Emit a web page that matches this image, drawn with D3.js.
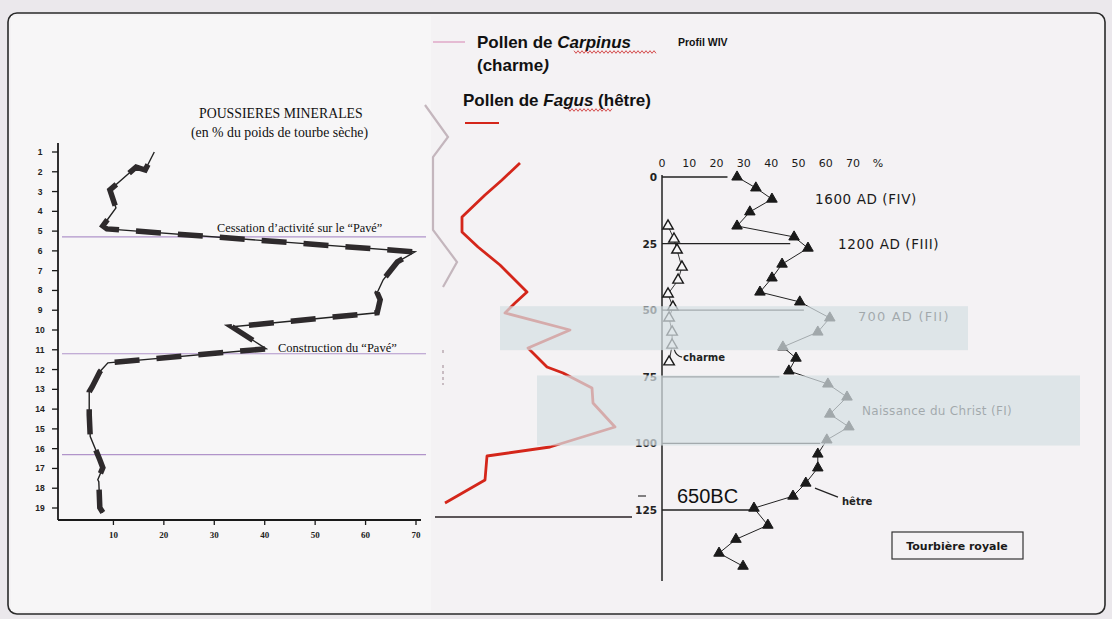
<!DOCTYPE html>
<html><head><meta charset="utf-8">
<script src="https://cdn.jsdelivr.net/npm/d3@7"></script>
<style>body{margin:0;background:#ebe8ec;} svg{display:block}</style>
</head><body><svg id="c" width="1112" height="619"></svg>
<script>
// ---------------- DATA ----------------
// Left panel: mineral dust (% of dry peat weight) vs sample level
const dustYTicks = [1,2,3,4,5,6,7,8,9,10,11,12,13,14,15,16,17,18,19];
const dustXTicks = [10,20,30,40,50,60,70];
const dustDepth = [1.0,1.91,1.76,2.92,3.83,4.74,4.89,6.05,6.56,7.46,8.12,8.47,9.13,9.84,10.95,11.66,12.11,12.87,13.12,14.28,15.39,16.56,16.96,17.57,17.67,18.98,19.23];
const dustValue = [18.1,16.3,14.5,9.3,10.5,7.9,8.7,69.8,66.3,63.5,62.3,62.9,62.3,33.5,40.3,8.9,7.3,5.8,5.2,5.2,5.4,7.3,7.9,6.9,7.1,7.3,7.9];
const dustEventDepth = [5.29, 11.2, 16.3];
const dustTitle = ["POUSSIERES MINERALES", "(en % du poids de tourbe sèche)"];
const cessationLabel = "Cessation d’activité sur le “Pavé”";
const constructionLabel = "Construction du “Pavé”";

// Middle panel: pollen curves (no axes in the original)
const fagusMidDepth = [3.15,4.0,4.75,5.85,6.6,7.35,8.25,9.6,10.15,10.65,11.5,12.4,13.35,13.65,14.4,15.15,16.35,17.35,17.8,19.0,20.15];
const fagusMidPct   = [20,16.4,13,8.4,8.4,11.6,16,21.4,19,17,30,21.6,25.4,28.6,34.4,34.6,39,26,13.4,13,5];
const carpMidDepth = [0.25,1.85,2.85,6.5,8.1,9.35];
const carpMidPct   = [1.0,5.6,2.6,2.6,7.4,4.6];
const carpMidFragDepth = [[12.5,12.8],[13.25,14.25]];
const carpMidFragPct = 4.6;
const midBaseDepth = 20.85, midBaseFrom = 3, midBaseTo = 42.4;

// Right panel: Tourbière royale
const royalDepthTicks = [0,25,50,75,100,125];
const royalPctTicks = [0,10,20,30,40,50,60,70];
const hetreDepth = [0,4.1,8.3,13.1,18.4,22.5,26.7,32.7,37.9,43.2,46.9,52.9,58.2,63.8,68.0,72.8,77.7,82.6,89.0,93.8,98.7,104.0,109.2,114.9,119.8,124.3,130.7,136.0,141.2,146.1];
const hetreValue = [27.5,34.4,40.3,32.2,27.5,48.4,53.5,44.0,40.3,35.9,50.5,61.5,57.1,44.3,49.1,46.5,60.8,67.8,61.5,68.5,60.4,57.1,57.1,52.7,48.0,33.7,38.8,27.1,20.9,29.7];
const charmeDepth = [18.4,23.3,27.4,33.8,38.7,43.9,48.8,52.9,58.2,63.1,69.4];
const charmeValue = [2.2,4.4,5.5,7.3,5.9,2.2,4.0,2.6,3.7,3.7,2.6];
const guideDepth = [0,25,50,75,100,125];
const guideEnd = [24,47,52,43,58,33];
const periodLabels = ["1600 AD (FIV)","1200 AD (FIII)","700 AD (FII)","Naissance du Christ (FI)"];

// ---------------- DRAW ----------------
const svg = d3.select("#c");
svg.append("rect").attr("x",8).attr("y",13).attr("width",1097).attr("height",601).attr("rx",9)
  .attr("fill","#f4f2f4").attr("stroke","#2a2a2a").attr("stroke-width",1.6);
svg.append("rect").attr("x",11).attr("y",16).attr("width",420).attr("height",595).attr("fill","#f7f6f7");

const serif = "'Liberation Serif','DejaVu Serif',serif";
const sans = "'Liberation Sans',Arial,sans-serif";
const dj = "'DejaVu Sans',sans-serif";

// ---- Left panel ----
const dx = d3.scaleLinear().domain([0,70]).range([63,416]);
const dy = d3.scaleLinear().domain([1,19]).range([152,508]);
const L = svg.append("g");
L.append("line").attr("x1",58).attr("x2",58).attr("y1",143).attr("y2",520).attr("stroke","#1a1a1a").attr("stroke-width",1.8);
L.append("line").attr("x1",58).attr("x2",421).attr("y1",520).attr("y2",520).attr("stroke","#1a1a1a").attr("stroke-width",1.8);
dustYTicks.forEach(t=>{
  L.append("line").attr("x1",52).attr("x2",58).attr("y1",dy(t)).attr("y2",dy(t)).attr("stroke","#1a1a1a").attr("stroke-width",1.3);
  L.append("text").attr("x",40).attr("y",dy(t)+3).attr("text-anchor","middle").attr("font-family",sans)
    .attr("font-size",8.5).attr("font-weight","bold").attr("fill","#222").text(t);
});
dustXTicks.forEach(t=>{
  L.append("line").attr("x1",dx(t)).attr("x2",dx(t)).attr("y1",520).attr("y2",525).attr("stroke","#1a1a1a").attr("stroke-width",1.3);
  L.append("text").attr("x",dx(t)).attr("y",538).attr("text-anchor","middle").attr("font-family",serif)
    .attr("font-size",9).attr("font-weight","bold").attr("fill","#222").text(t);
});
dustEventDepth.forEach(d=>{
  L.append("line").attr("x1",62).attr("x2",426).attr("y1",dy(d)).attr("y2",dy(d)).attr("stroke","#a07cc0").attr("stroke-width",1.1).attr("opacity",0.8);
});
const dustPts = dustDepth.map((d,i)=>[dx(dustValue[i]),dy(d)]);
const ln = d3.line();
L.append("path").attr("d",ln(dustPts)).attr("fill","none").attr("stroke","#222").attr("stroke-width",1.4);
L.append("path").attr("d",ln(dustPts)).attr("fill","none").attr("stroke","#2e2a2c").attr("stroke-width",5.5)
  .attr("stroke-dasharray","25,17").attr("stroke-dashoffset",-14);
L.append("text").attr("x",199).attr("y",118).attr("font-family",serif).attr("font-size",13.8).attr("fill","#111").text(dustTitle[0]);
L.append("text").attr("x",191).attr("y",137).attr("font-family",serif).attr("font-size",13.8).attr("fill","#111").text(dustTitle[1]);
L.append("text").attr("x",217).attr("y",232).attr("font-family",serif).attr("font-size",12.3).attr("fill","#111").text(cessationLabel);
L.append("text").attr("x",278).attr("y",352).attr("font-family",serif).attr("font-size",12.5).attr("fill","#111").text(constructionLabel);

// ---- Middle panel ----
const mx = d3.scaleLinear().domain([0,40]).range([420,620]);
const my = d3.scaleLinear().domain([0,20]).range([100,500]);
const M = svg.append("g");
M.append("path").attr("d",ln(carpMidDepth.map((d,i)=>[mx(carpMidPct[i]),my(d)])))
  .attr("fill","none").attr("stroke","#c4b6bd").attr("stroke-width",2.2);
carpMidFragDepth.forEach(f=>{
  M.append("line").attr("x1",mx(carpMidFragPct)).attr("x2",mx(carpMidFragPct)).attr("y1",my(f[0])).attr("y2",my(f[1]))
    .attr("stroke","#c8bcc2").attr("stroke-width",2).attr("stroke-dasharray","3,3");
});
M.append("path").attr("d",ln(fagusMidDepth.map((d,i)=>[mx(fagusMidPct[i]),my(d)])))
  .attr("fill","none").attr("stroke","#d4261a").attr("stroke-width",2.8).attr("stroke-linejoin","round");
M.append("line").attr("x1",mx(midBaseFrom)).attr("x2",mx(midBaseTo)).attr("y1",my(midBaseDepth)).attr("y2",my(midBaseDepth))
  .attr("stroke","#2a2226").attr("stroke-width",1.6);

// legend
function squiggle(x0,x1,y){
  const pts=[];for(let x=x0;x<=x1;x+=2){pts.push([x,y+((Math.round((x-x0)/2))%2?1.3:-1.3)]);}
  svg.append("path").attr("d",d3.line()(pts)).attr("fill","none").attr("stroke","#d03a3a").attr("stroke-width",0.9);
}
svg.append("line").attr("x1",433).attr("x2",465).attr("y1",42).attr("y2",42).attr("stroke","#e0a8c8").attr("stroke-width",1.5);
const t1 = svg.append("text").attr("x",477).attr("y",48).attr("font-family",sans).attr("font-size",17).attr("font-weight","bold").attr("fill","#111");
t1.append("tspan").text("Pollen de ");
t1.append("tspan").attr("font-style","italic").text("Carpinus");
svg.append("text").attr("x",678).attr("y",46).attr("font-family",sans).attr("font-size",10.5).attr("font-weight","bold").attr("fill","#111").text("Profil WIV");
const t2 = svg.append("text").attr("x",477).attr("y",71).attr("font-family",sans).attr("font-size",17).attr("font-weight","bold").attr("fill","#111");
t2.append("tspan").text("(charme");t2.append("tspan").attr("font-style","italic").text(")");
const t3 = svg.append("text").attr("x",463).attr("y",106).attr("font-family",sans).attr("font-size",17).attr("font-weight","bold").attr("fill","#111");
t3.append("tspan").text("Pollen de ");
t3.append("tspan").attr("font-style","italic").text("Fagus");
t3.append("tspan").text(" (hêtre)");
squiggle(574,656,52);
squiggle(568,612,110);
svg.append("line").attr("x1",465).attr("x2",499).attr("y1",123).attr("y2",123).attr("stroke","#d4261a").attr("stroke-width",2);

// ---- Right panel ----
const rx = d3.scaleLinear().domain([0,70]).range([662,853]);
const ry = d3.scaleLinear().domain([0,125]).range([177,510]);
const R = svg.append("g");
R.append("line").attr("x1",rx(0)).attr("x2",rx(0)).attr("y1",ry(0)-2).attr("y2",581).attr("stroke","#222").attr("stroke-width",1.5);
royalPctTicks.forEach(t=>{
  R.append("text").attr("x",rx(t)).attr("y",167).attr("text-anchor","middle").attr("font-family",dj).attr("font-size",11).attr("fill","#1a1a1a").text(t);
});
R.append("text").attr("x",878).attr("y",167).attr("text-anchor","middle").attr("font-family",dj).attr("font-size",11).attr("fill","#1a1a1a").text("%");
royalDepthTicks.forEach(t=>{
  R.append("text").attr("x",657).attr("y",ry(t)+4).attr("text-anchor","end").attr("font-family",dj).attr("font-size",10.5).attr("font-weight","bold").attr("fill","#222").text(t);
});
guideDepth.forEach((d,i)=>{
  R.append("line").attr("x1",rx(0)).attr("x2",rx(guideEnd[i])).attr("y1",ry(d)).attr("y2",ry(d)).attr("stroke","#222").attr("stroke-width",1.3);
});
R.append("path").attr("d",ln(charmeDepth.map((d,i)=>[rx(charmeValue[i]),ry(d)]))).attr("fill","none").attr("stroke","#222").attr("stroke-width",0.9);
R.append("path").attr("d",ln(hetreDepth.map((d,i)=>[rx(hetreValue[i]),ry(d)]))).attr("fill","none").attr("stroke","#222").attr("stroke-width",1);
const tri = d3.symbol().type(d3.symbolTriangle).size(48);
charmeDepth.forEach((d,i)=>{
  R.append("path").attr("d",tri()).attr("transform",`translate(${rx(charmeValue[i])},${ry(d)})`)
    .attr("fill","#f7f6f7").attr("stroke","#1a1a1a").attr("stroke-width",1.4);
});
hetreDepth.forEach((d,i)=>{
  R.append("path").attr("d",tri()).attr("transform",`translate(${rx(hetreValue[i])},${ry(d)})`)
    .attr("fill","#1a1a1a").attr("stroke","#1a1a1a").attr("stroke-width",1);
});
const cI = 9;
R.append("path").attr("d",`M${rx(charmeValue[cI])+2},${ry(charmeDepth[cI])+4} Q${rx(charmeValue[cI])+4},${ry(charmeDepth[cI])+11} ${rx(charmeValue[cI])+10},${ry(charmeDepth[cI])+12}`)
  .attr("fill","none").attr("stroke","#222").attr("stroke-width",1.2);
R.append("text").attr("x",rx(charmeValue[cI])+11).attr("y",ry(charmeDepth[cI])+16).attr("font-family",dj).attr("font-size",10).attr("font-weight","bold").attr("fill","#222").text("charme");
const hI = 24;
R.append("line").attr("x1",rx(hetreValue[hI])+22).attr("y1",ry(hetreDepth[hI])-8).attr("x2",rx(hetreValue[hI])+45).attr("y2",ry(hetreDepth[hI])+1).attr("stroke","#222").attr("stroke-width",1.3);
R.append("text").attr("x",842).attr("y",505).attr("font-family",dj).attr("font-size",10).attr("font-weight","bold").attr("fill","#222").text("hêtre");
R.append("text").attr("x",677).attr("y",503).attr("font-family",sans).attr("font-size",20).attr("fill","#111").text("650BC");
R.append("line").attr("x1",638).attr("x2",646).attr("y1",496).attr("y2",496).attr("stroke","#333").attr("stroke-width",1.2);
R.append("text").attr("x",815).attr("y",204).attr("font-family",dj).attr("font-size",13.5).attr("letter-spacing",0.6).attr("fill","#1a1a1a").text(periodLabels[0]);
R.append("text").attr("x",838).attr("y",249).attr("font-family",dj).attr("font-size",13.5).attr("letter-spacing",0.6).attr("fill","#1a1a1a").text(periodLabels[1]);
R.append("text").attr("x",858).attr("y",321).attr("font-family",dj).attr("font-size",13).attr("letter-spacing",1.2).attr("fill","#1a1a1a").text(periodLabels[2]);
R.append("text").attr("x",862).attr("y",415).attr("font-family",dj).attr("font-size",12).attr("letter-spacing",0.3).attr("fill","#1a1a1a").text(periodLabels[3]);
R.append("rect").attr("x",892).attr("y",532).attr("width",131).attr("height",27).attr("fill","none").attr("stroke","#333").attr("stroke-width",1.2);
R.append("text").attr("x",957).attr("y",550).attr("text-anchor","middle").attr("font-family",dj).attr("font-size",11).attr("font-weight","bold").attr("fill","#1a1a1a").text("Tourbière royale");

// translucent period bands (drawn on top, they dim what is below)
svg.append("rect").attr("x",500).attr("y",ry(48.5)).attr("width",468).attr("height",ry(65)-ry(48.5)).attr("fill","#d6dfe3").attr("opacity",0.72);
svg.append("rect").attr("x",537).attr("y",ry(74.5)).attr("width",543).attr("height",ry(100.8)-ry(74.5)).attr("fill","#d6dfe3").attr("opacity",0.72);
</script></body></html>
